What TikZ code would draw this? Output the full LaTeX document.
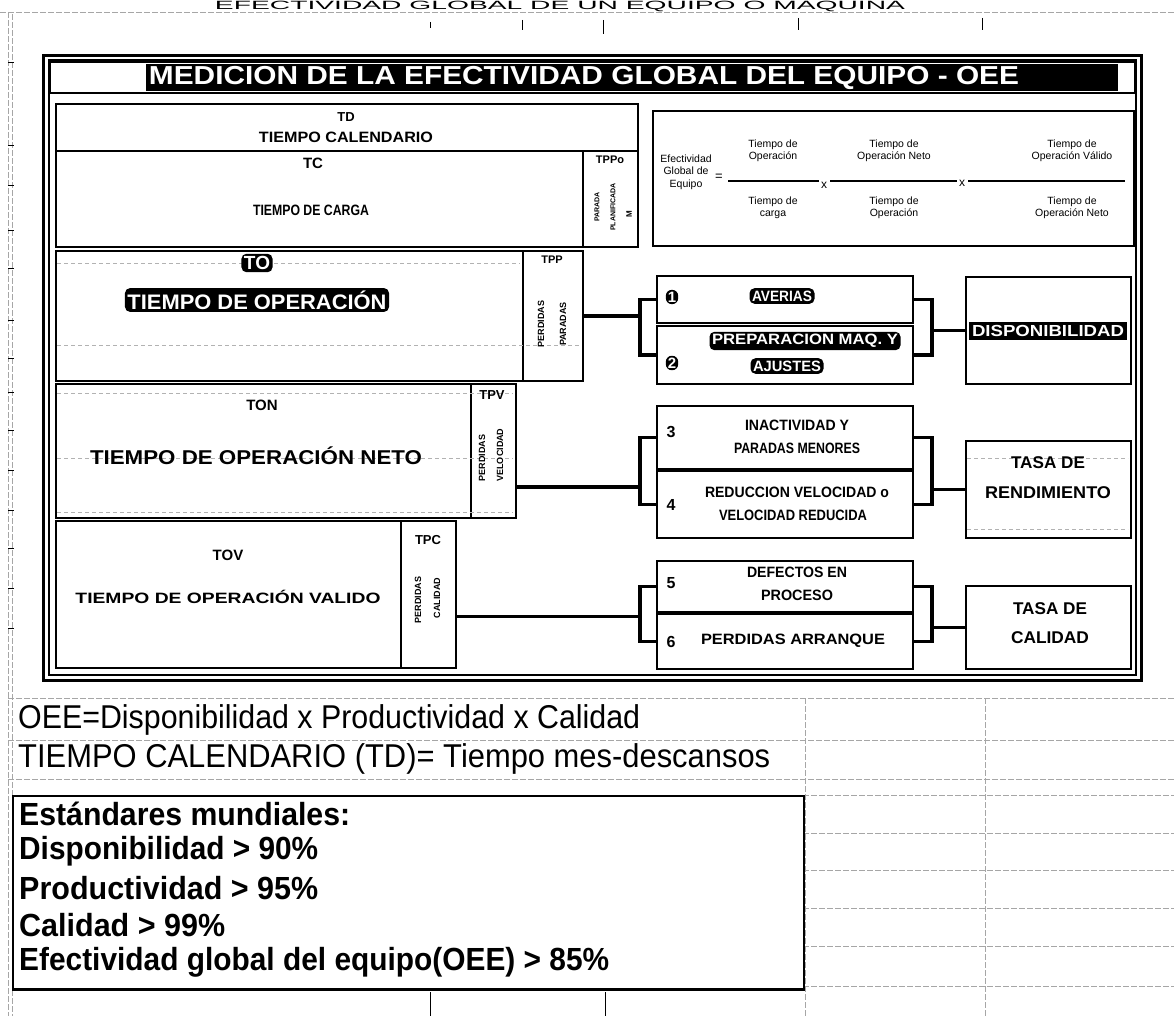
\documentclass[tikz,border=0pt]{standalone}
\usepackage{fontspec}
\setmainfont{Liberation Sans}
\usepackage{graphicx}
% squeeze or stretch a text horizontally to a given width (in pt)
\newcommand{\fw}[2]{\resizebox{#1pt}{\height}{#2}}
\begin{document}
\begin{tikzpicture}[x=1pt,y=-1pt,
  box/.style={draw, line width=2.2pt, inner sep=0pt, anchor=north west},
  bt/.style={font=\bfseries\fontsize{15}{17}\selectfont, inner sep=0pt, align=center},
  big/.style={font=\bfseries\fontsize{20}{22}\selectfont, inner sep=0pt},
  inv/.style={fill=black, text=white, rounded corners=5pt, inner sep=2.5pt,
              font=\bfseries\fontsize{15}{17}\selectfont},
  vt/.style={rotate=90, font=\bfseries\fontsize{9}{10}\selectfont, inner sep=0pt},
  ft/.style={font=\fontsize{10.5}{12.5}\selectfont, inner sep=0pt, align=center},
  conn/.style={line width=3.6pt},
  bar/.style={line width=1.2pt},
  gridline/.style={gray!70, line width=0.8pt, dash pattern=on 6pt off 2pt},
  faint/.style={gray!60, line width=0.7pt, dash pattern=on 4pt off 3pt},
  sheet/.style={font=\fontsize{33}{35}\selectfont, anchor=west, inner sep=0pt},
  sheetb/.style={sheet, font=\bfseries\fontsize{32}{34}\selectfont}]

\useasboundingbox (0,0) rectangle (1174,1016);
\clip (0,0) rectangle (1174,1016);

% ---------- spreadsheet background ----------
\node[font=\fontsize{12}{13}\selectfont, anchor=north, inner sep=0pt] (sheettitle) at (560,1)
  {\fw{690}{EFECTIVIDAD GLOBAL DE UN EQUIPO O MAQUINA}};
\draw[gridline] (0,12) -- (1174,12);
\draw[gridline] (8,12) -- (8,1016);
\draw[gridline] (12,14) -- (12,1016);
\foreach \x/\a/\b in {430/22/28, 522/20/30, 603/20/34, 798/18/30, 982/18/30}
  \draw[line width=0.9pt] (\x,\a) -- (\x,\b);
\foreach \y in {62,145,185,230,268,320,358,392,430,470,510,548,588,628}
  \draw[line width=0.8pt] (8,\y) -- (14,\y);

\draw[gridline] (8,698) -- (1174,698);
\draw[gridline] (8,740) -- (1174,740);
\draw[gridline] (8,779) -- (1174,779);
\draw[gridline] (803,795) -- (1174,795);
\foreach \y in {833,870,908,946,986}
  \draw[gridline] (803,\y) -- (1174,\y);
\draw[gridline] (805,698) -- (805,1016);
\draw[gridline] (985,698) -- (985,1016);
\foreach \x in {430,605}
  \draw[line width=0.9pt] (\x,992) -- (\x,1016);

% ---------- main frame ----------
\draw[line width=3pt] (43,56) rectangle (1141,680);
\draw[line width=1.2pt] (49,60) rectangle (1136,675);

% title bar
\draw[line width=2pt] (50,62) rectangle (1135,93);
\fill (146,64) rectangle (1118,91);
\node[text=white, font=\bfseries\fontsize{26}{28}\selectfont, inner sep=0pt] (title) at (584,78)
  {\fw{870}{MEDICION DE LA EFECTIVIDAD GLOBAL DEL EQUIPO - OEE}};

% ---------- time blocks ----------
\node[box, minimum width=582pt, minimum height=47pt] (td) at (55,103) {};
\node[box, minimum width=527pt, minimum height=96pt] (tc) at (55,150) {};
\node[box, minimum width=55pt,  minimum height=96pt] (tppo) at (582,150) {};
\node[box, minimum width=467pt, minimum height=130pt] (to) at (55,250) {};
\node[box, minimum width=60pt,  minimum height=130pt] (tpp) at (522,250) {};
\node[box, minimum width=415pt, minimum height=134pt] (ton) at (55,383) {};
\node[box, minimum width=45pt,  minimum height=134pt] (tpv) at (470,383) {};
\node[box, minimum width=345pt, minimum height=147pt] (tov) at (55,520) {};
\node[box, minimum width=55pt,  minimum height=147pt] (tpc) at (400,520) {};

% grid remnants inside the blocks
\draw[faint] (57,263) -- (520,263);
\draw[faint] (57,345) -- (580,345);
\draw[faint] (57,393) -- (513,393);
\draw[faint] (57,458) -- (513,458);
\draw[faint] (57,512) -- (513,512);

\node[bt, font=\bfseries\fontsize{13}{15}\selectfont] (tdA) at (346,117) {TD};
\node[bt] (tdB) at (346,137) {\fw{174}{TIEMPO CALENDARIO}};
\node[bt] (tcA) at (313,163) {TC};
\node[bt] (tcB) at (311,210) {\fw{116}{TIEMPO DE CARGA}};
\node[bt, font=\bfseries\fontsize{11}{12}\selectfont] (tppoA) at (610,160) {TPPo};
\node[vt, font=\bfseries\fontsize{7}{8}\selectfont] (tppoB) at (597,207) {PARADA};
\node[vt, font=\bfseries\fontsize{7}{8}\selectfont] (tppoC) at (613,207) {PLANIFICADA};
\node[vt, font=\bfseries\fontsize{8}{9}\selectfont] (tppoD) at (629,214) {M};

\node[inv, font=\bfseries\fontsize{19}{21}\selectfont] (toA) at (257,263) {TO};
\node[inv] (toB) at (257,300) {\fw{259}{\fontsize{21}{23}\selectfont TIEMPO DE OPERACIÓN}};
\node[bt, font=\bfseries\fontsize{11}{12}\selectfont] (tppA) at (552,260) {TPP};
\node[vt] (tppB) at (541,324) {PERDIDAS};
\node[vt] (tppC) at (563,324) {PARADAS};

\node[bt] (tonA) at (262,405) {TON};
\node[big] (tonB) at (256,456) {\fw{332}{TIEMPO DE OPERACIÓN NETO}};
\node[bt, font=\bfseries\fontsize{13}{14}\selectfont] (tpvA) at (492,395) {TPV};
\node[vt] (tpvB) at (482,458) {PERDIDAS};
\node[vt] (tpvC) at (500,455) {VELOCIDAD};

\node[bt] (tovA) at (228,555) {TOV};
\node[bt] (tovB) at (228,597) {\fw{305}{TIEMPO DE OPERACIÓN VALIDO}};
\node[bt, font=\bfseries\fontsize{13}{14}\selectfont] (tpcA) at (428,540) {TPC};
\node[vt] (tpcB) at (418,600) {PERDIDAS};
\node[vt] (tpcC) at (437,598) {CALIDAD};

% ---------- formula ----------
\node[draw, line width=1.6pt, anchor=north west, minimum width=481pt, minimum height=135pt] (formula) at (652,110) {};
\node[ft] (fl) at (686,172) {Efectividad\\Global de\\Equipo};
\node[ft, font=\fontsize{13}{14}\selectfont] (feq) at (719,177) {=};
\node[ft] (n1) at (773,151) {Tiempo de\\Operación};
\node[ft] (d1) at (773,208) {Tiempo de\\carga};
\node[ft, font=\fontsize{12}{13}\selectfont] (x1) at (824,185) {x};
\node[ft] (n2) at (894,151) {Tiempo de\\Operación Neto};
\node[ft] (d2) at (894,208) {Tiempo de\\Operación};
\node[ft, font=\fontsize{12}{13}\selectfont] (x2) at (962,183) {x};
\node[ft] (n3) at (1072,151) {Tiempo de\\Operación Válido};
\node[ft] (d3) at (1072,208) {Tiempo de\\Operación Neto};
\draw[bar] (728,181) -- (819,181);
\draw[bar] (830,181) -- (957,181);
\draw[bar] (968,181) -- (1125,181);

% ---------- loss boxes ----------
\node[box, minimum width=256pt, minimum height=47pt] (b1) at (656,275) {};
\node[box, minimum width=256pt, minimum height=58pt] (b2) at (656,325) {};
\node[box, minimum width=256pt, minimum height=63pt] (b3) at (656,405) {};
\node[box, minimum width=256pt, minimum height=67pt] (b4) at (656,470) {};
\node[box, minimum width=256pt, minimum height=51pt] (b5) at (656,560) {};
\node[box, minimum width=256pt, minimum height=55pt] (b6) at (656,613) {};

\node[inv, rounded corners=6pt, inner sep=2pt] (n1b) at (672,297) {1};
\node[inv] (avA) at (782,296) {\fw{60}{AVERIAS}};
\node[inv, rounded corners=6pt, inner sep=2pt] (n2b) at (672,363) {2};
\node[inv] (prA) at (805,341) {\fw{186}{PREPARACION MAQ. Y}};
\node[inv] (prB) at (787,366) {\fw{68}{AJUSTES}};

\node[bt, font=\bfseries\fontsize{16}{17}\selectfont] (n3b) at (671,432) {3};
\node[bt] (inA) at (797,425) {\fw{104}{INACTIVIDAD Y}};
\node[bt] (inB) at (797,448) {\fw{126}{PARADAS MENORES}};
\node[bt, font=\bfseries\fontsize{16}{17}\selectfont] (n4b) at (671,505) {4};
\node[bt] (reA) at (797,492) {\fw{184}{REDUCCION VELOCIDAD o}};
\node[bt] (reB) at (793,515) {\fw{148}{VELOCIDAD REDUCIDA}};

\node[bt, font=\bfseries\fontsize{16}{17}\selectfont] (n5b) at (671,583) {5};
\node[bt] (deA) at (797,572) {\fw{100}{DEFECTOS EN}};
\node[bt] (deB) at (797,595) {\fw{72}{PROCESO}};
\node[bt, font=\bfseries\fontsize{16}{17}\selectfont] (n6b) at (671,642) {6};
\node[bt] (paA) at (793,641) {\fw{184}{PERDIDAS ARRANQUE}};

% ---------- indicator boxes ----------
\node[box, minimum width=165pt, minimum height=107pt] (disp) at (965,276) {};
\node[box, minimum width=165pt, minimum height=97pt] (rend) at (965,440) {};
\node[box, minimum width=165pt, minimum height=83pt] (cal) at (965,585) {};
\draw[faint] (967,458) -- (1128,458);
\draw[faint] (967,529) -- (1128,529);

\node[inv, rounded corners=0pt, inner sep=3pt] (dispT) at (1048,331) {\fw{152}{\fontsize{16}{18}\selectfont DISPONIBILIDAD}};
\node[bt, font=\bfseries\fontsize{17}{19}\selectfont] (rendA) at (1048,463) {\fw{74}{TASA DE}};
\node[bt, font=\bfseries\fontsize{17}{19}\selectfont] (rendB) at (1048,493) {\fw{126}{RENDIMIENTO}};
\node[bt, font=\bfseries\fontsize{17}{19}\selectfont] (calA) at (1050,609) {\fw{74}{TASA DE}};
\node[bt, font=\bfseries\fontsize{17}{19}\selectfont] (calB) at (1050,638) {\fw{78}{CALIDAD}};

% ---------- connectors ----------
\coordinate (jl) at (640,0);
\coordinate (jr) at (932,0);
\draw[conn] (tpp.east) -- (tpp.east -| jl);
\draw[conn] (b1.west) -| (jl |- b2.west) -- (b2.west);
\draw[conn] (b1.east) -| (jr |- b2.east) -- (b2.east);
\draw[conn] (disp.west) -- (disp.west -| jr);

\coordinate (j2) at (640,487);
\draw[conn] (tpv.east |- j2) -- (j2);
\draw[conn] (b3.west) -| (jl |- b4.west) -- (b4.west);
\draw[conn] (b3.east) -| (jr |- b4.east) -- (b4.east);
\draw[conn] (rend.west) -- (rend.west -| jr);

\coordinate (j3) at (640,616);
\draw[conn, line width=3pt] (tpc.east |- j3) -- (j3);
\draw[conn] (b5.west) -| (jl |- b6.west) -- (b6.west);
\draw[conn] (b5.east) -| (jr |- b6.east) -- (b6.east);
\draw[conn] (cal.west) -- (cal.west -| jr);

% ---------- notes below ----------
\node[sheet] (oee) at (18,720) {\fw{622}{OEE=Disponibilidad x Productividad x Calidad}};
\node[sheet] (tcal) at (18,759) {\fw{752}{TIEMPO CALENDARIO (TD)= Tiempo mes-descansos}};

\node[draw, line width=1.5pt, anchor=north west, minimum width=791pt, minimum height=193pt] (std) at (12,795) {};
\draw[line width=3pt] (std.south west) -- (std.south east);
\node[sheetb] (s1) at (19,814) {\fw{331}{Estándares mundiales:}};
\node[sheetb] (s2) at (19,851) {\fw{299}{Disponibilidad > 90\%}};
\node[sheetb] (s3) at (19,888) {\fw{299}{Productividad > 95\%}};
\node[sheetb] (s4) at (19,925) {\fw{206}{Calidad > 99\%}};
\node[sheetb] (s5) at (19,962) {\fw{590}{Efectividad global del equipo(OEE) > 85\%}};
\end{tikzpicture}
\end{document}
